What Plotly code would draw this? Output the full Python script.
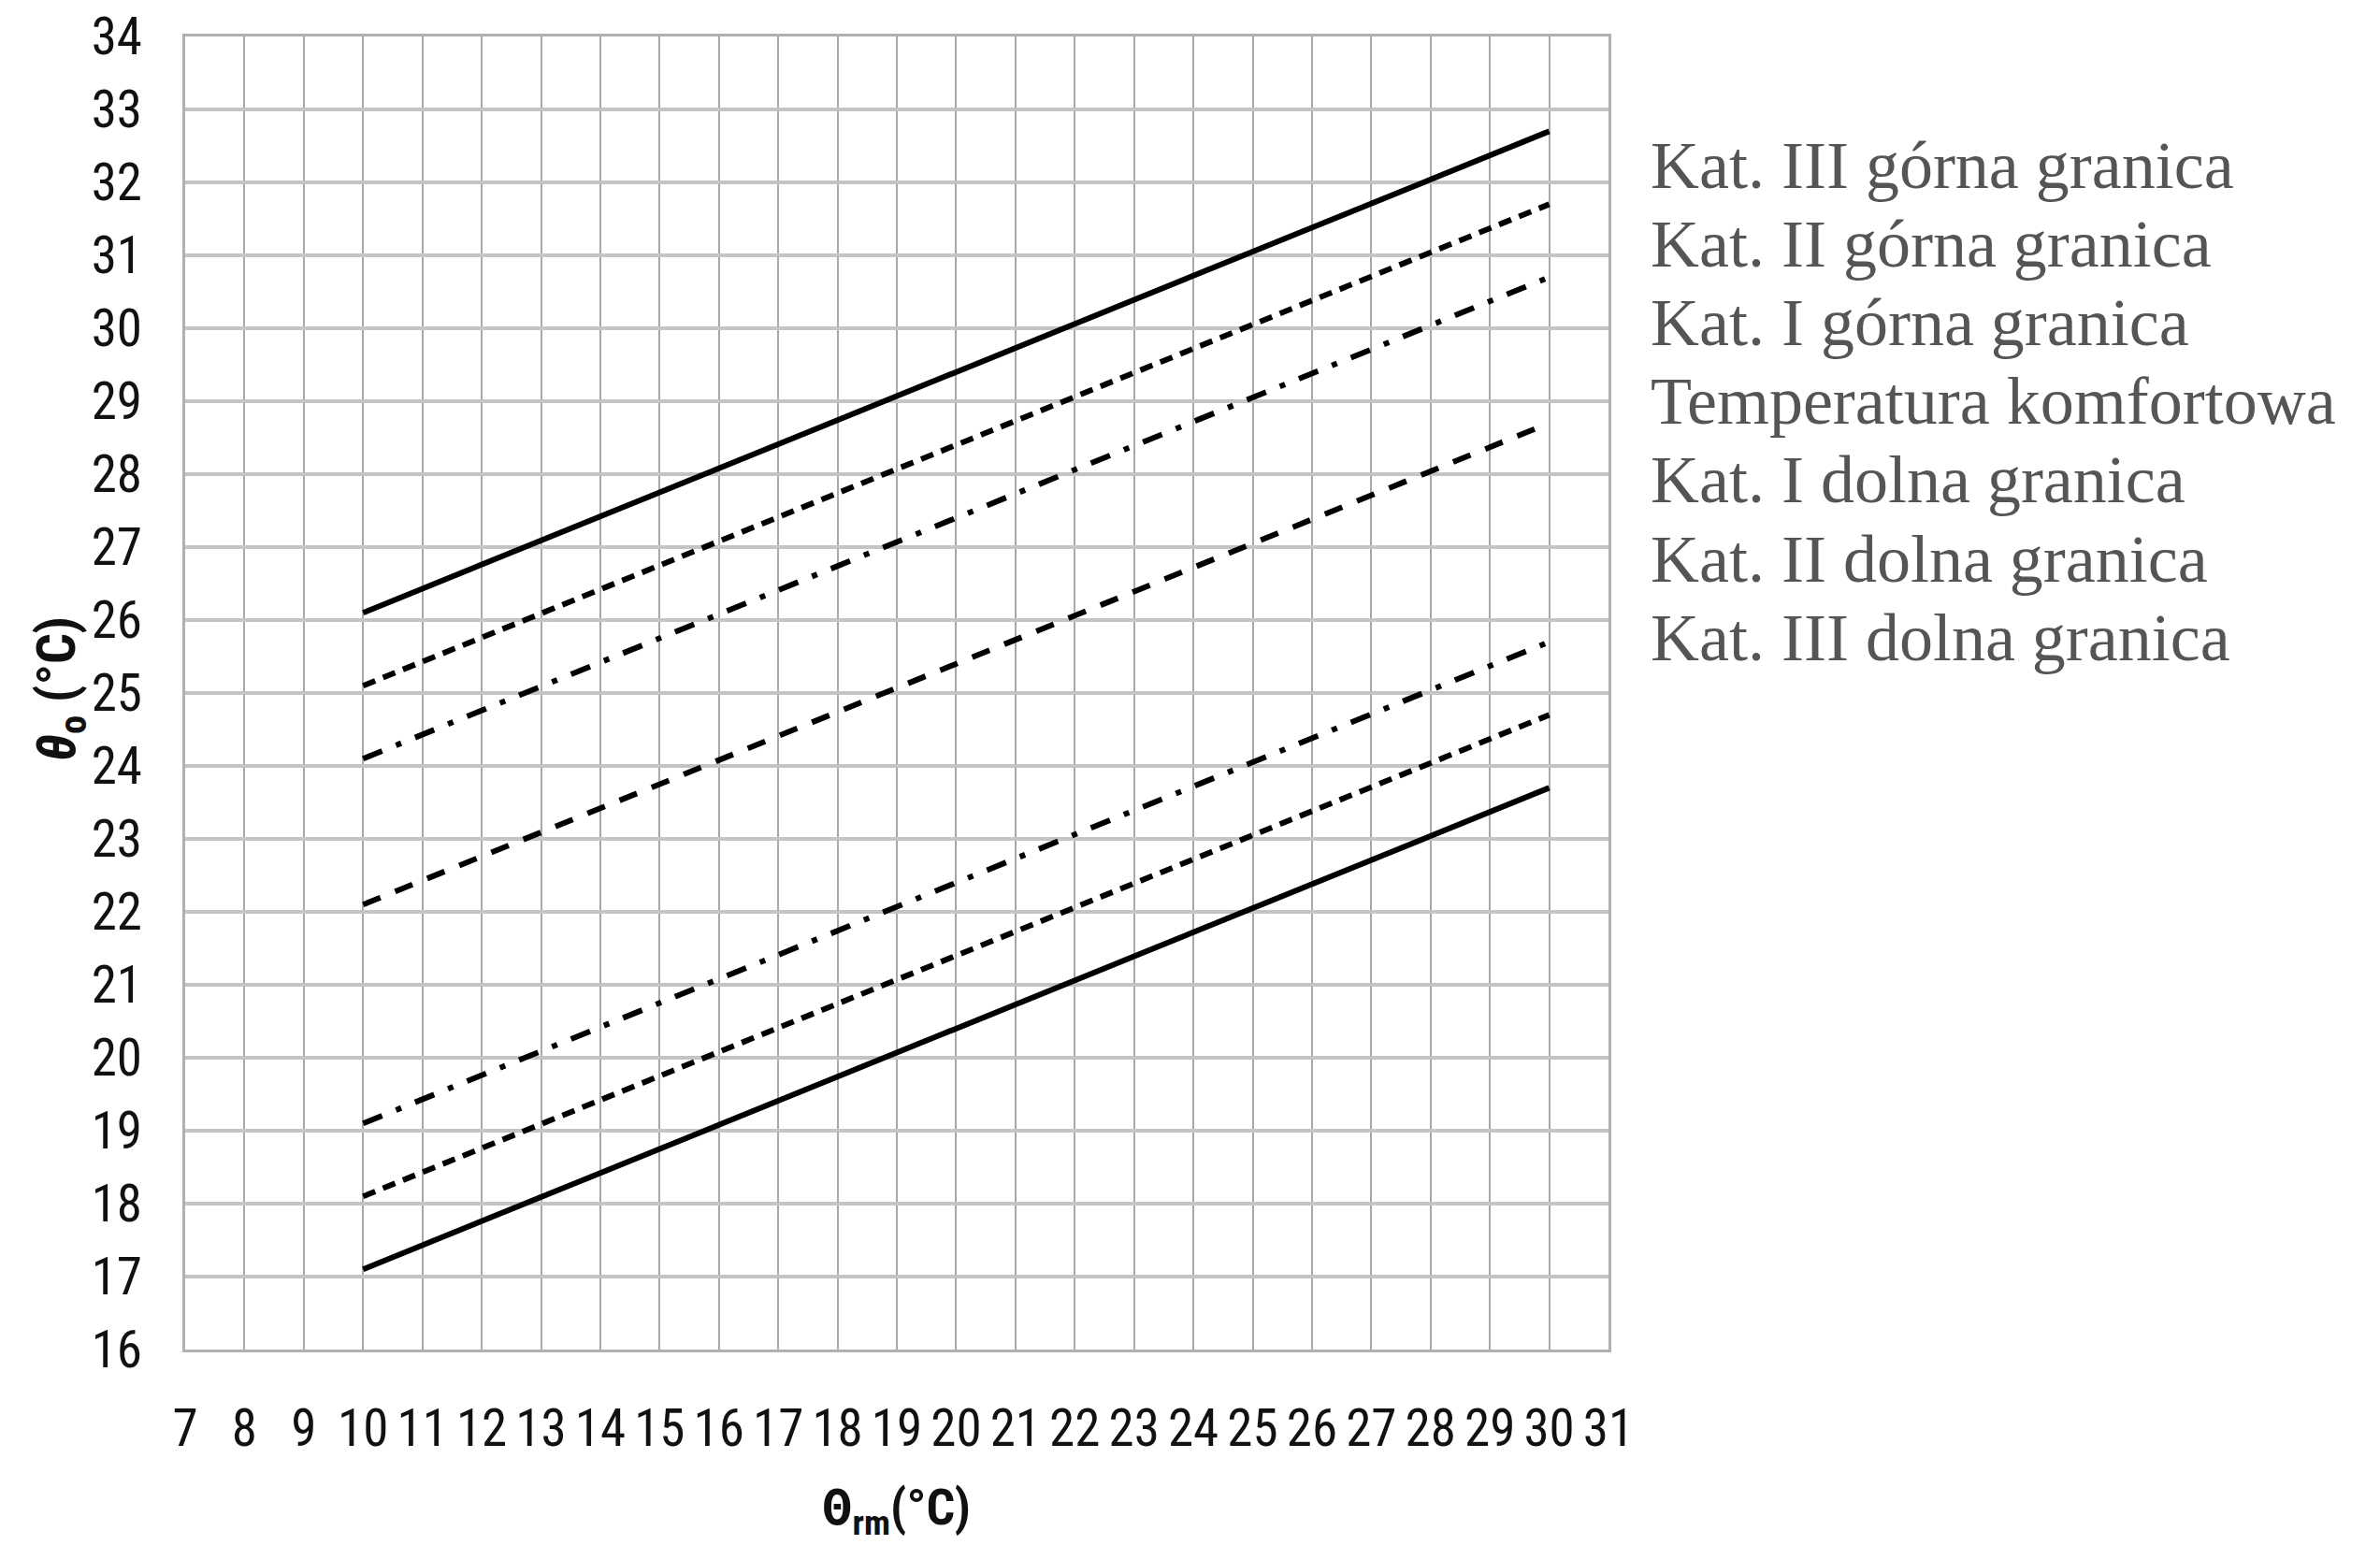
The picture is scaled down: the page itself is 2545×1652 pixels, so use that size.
import plotly.graph_objects as go

# ---- data ----
x_range_pts = [10, 30]
kat3_upper = [26.1, 32.7]
kat2_upper = [25.1, 31.7]
kat1_upper = [24.1, 30.7]
comfort = [22.1, 28.7]
kat1_lower = [19.1, 25.7]
kat2_lower = [18.1, 24.7]
kat3_lower = [17.1, 23.7]

legend_labels = [
    "Kat. III górna granica",
    "Kat. II górna granica",
    "Kat. I górna granica",
    "Temperatura komfortowa",
    "Kat. I dolna granica",
    "Kat. II dolna granica",
    "Kat. III dolna granica",
]

x_ticks = list(range(7, 32))
y_ticks = list(range(16, 35))

# page-pixel targets (the page body adds an 8px offset)
OFF = 8
PW, PH = 2545, 1652
L, R, T, B = 198, 1720, 39, 1443
W, H = PW - OFF, PH - OFF

series = [
    (legend_labels[0], kat3_upper, "solid"),
    (legend_labels[1], kat2_upper, "14px,9px"),
    (legend_labels[2], kat1_upper, "22px,16px,6px,16px"),
    (legend_labels[3], comfort, "20px,17px"),
    (legend_labels[4], kat1_lower, "22px,16px,6px,16px"),
    (legend_labels[5], kat2_lower, "14px,9px"),
    (legend_labels[6], kat3_lower, "solid"),
]

fig = go.Figure()
for name, ys, dash in series:
    fig.add_trace(go.Scatter(
        x=x_range_pts, y=ys, mode="lines", name=name,
        line=dict(color="black", width=6, dash=dash),
        showlegend=False,
    ))

narrow = "Liberation Sans Narrow, Arial Narrow, Roboto Condensed, Liberation Sans"

fig.update_layout(
    width=W, height=H,
    margin=dict(l=L - OFF, r=PW - R, t=T - OFF, b=PH - B, pad=0, autoexpand=False),
    paper_bgcolor="white", plot_bgcolor="white",
    xaxis=dict(
        range=[7, 31], tickmode="array", tickvals=x_ticks,
        ticktext=[str(v) for v in x_ticks],
        showgrid=True, gridcolor="#a8a8a8", gridwidth=2,
        zeroline=False, showline=True, linecolor="#b0b0b0", linewidth=3, mirror=True,
        ticks="outside", ticklen=34, tickcolor="rgba(0,0,0,0)",
        tickfont=dict(family=narrow, size=55, color="#111111"),
        ticklabeloverflow="allow", automargin=False,
    ),
    yaxis=dict(
        range=[16, 34], tickmode="array", tickvals=y_ticks,
        ticktext=[str(v) for v in y_ticks],
        showgrid=True, gridcolor="#c4c4c4", gridwidth=4,
        zeroline=False, showline=True, linecolor="#b0b0b0", linewidth=3, mirror=True,
        ticks="outside", ticklen=32, tickcolor="rgba(0,0,0,0)",
        tickfont=dict(family=narrow, size=55, color="#111111"),
        ticklabeloverflow="allow", automargin=False,
    ),
)

# axis titles
fig.add_annotation(
    text="<b>Θ<sub>rm</sub>(°C)</b>", xref="paper", yref="paper",
    x=(958 - L) / (R - L), y=(B - 1615) / (B - T),
    xanchor="center", yanchor="middle", showarrow=False,
    font=dict(family=narrow, size=54, color="#111111"),
)
fig.add_annotation(
    text="<b><i>θ</i><sub>o</sub> (°C)</b>", xref="paper", yref="paper",
    x=(64 - L) / (R - L), y=(B - 737) / (B - T),
    xanchor="center", yanchor="middle", showarrow=False, textangle=-90,
    font=dict(family=narrow, size=58, color="#111111"),
)

# legend as text (no symbols)
legend_y_px = [177, 261, 345, 429, 513, 598, 682]
for lbl, py in zip(legend_labels, legend_y_px):
    fig.add_annotation(
        text=lbl, xref="paper", yref="paper",
        x=(1763 - L) / (R - L), y=(B - py) / (B - T),
        xanchor="left", yanchor="middle", showarrow=False,
        font=dict(family="Liberation Serif, Times New Roman, serif", size=72, color="#555555"),
    )

fig.write_html("out.html")
